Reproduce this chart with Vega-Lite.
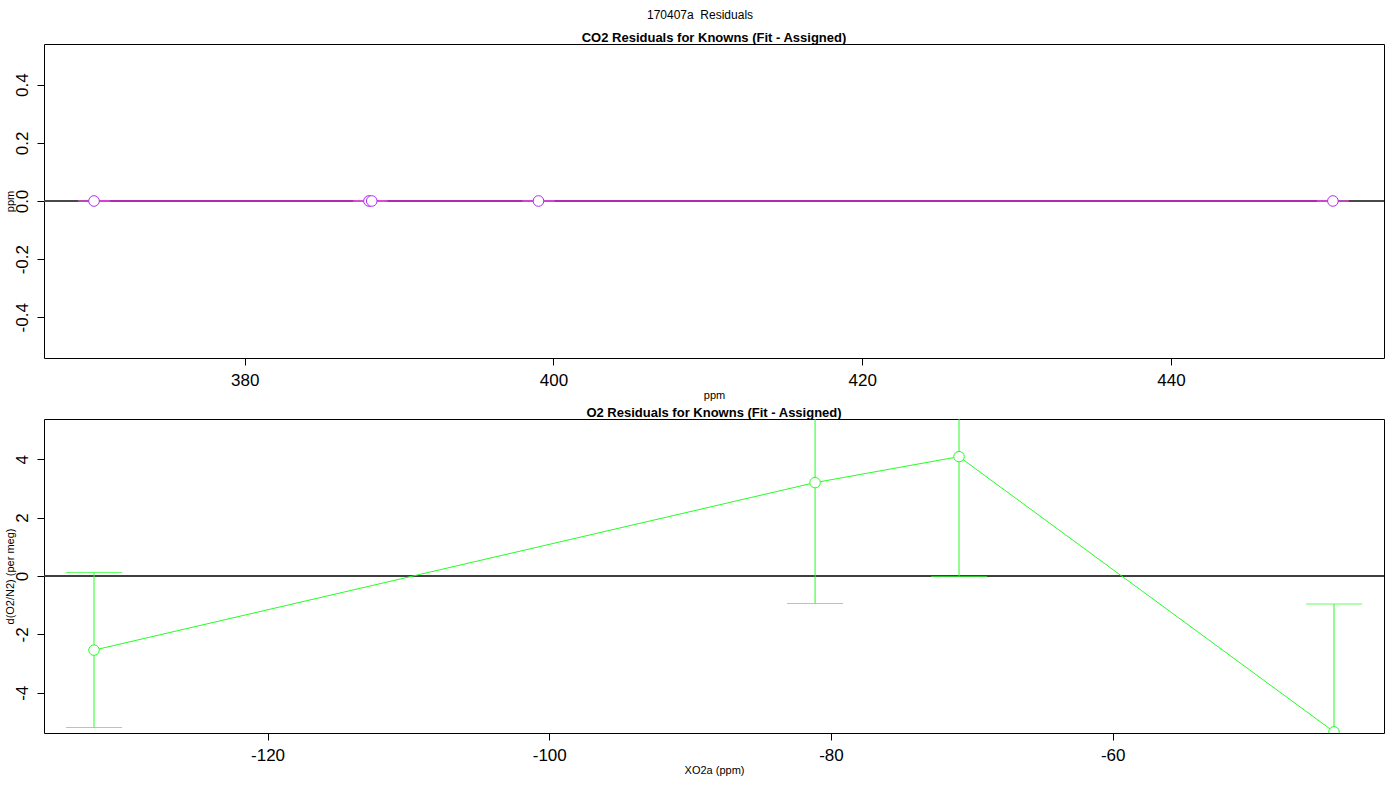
{
  "$schema": "https://vega.github.io/schema/vega-lite/v6.json",
  "autosize": {"type": "pad"},
  "padding": {"left": 3, "top": 8, "right": 16, "bottom": 25},
  "background": "white",
  "title": {"text": "170407a\u00a0 Residuals", "fontSize": 12, "fontWeight": "normal", "font": "Liberation Sans", "anchor": "middle", "frame": "group", "dx": -14, "baseline": "alphabetic", "offset": 1, "color": "black"},
  "datasets": {
    "co2": [
      {"x": 370.24, "y": 0, "lo": -0.0005, "hi": 0.0005},
      {"x": 388.05, "y": 0, "lo": -0.0005, "hi": 0.0005},
      {"x": 388.23, "y": 0, "lo": -0.0005, "hi": 0.0005},
      {"x": 399.03, "y": 0, "lo": -0.0005, "hi": 0.0005},
      {"x": 450.49, "y": 0, "lo": -0.0005, "hi": 0.0005}
    ],
    "o2": [
      {"x": -132.32, "y": -2.54, "lo": -5.19, "hi": 0.12},
      {"x": -81.13, "y": 3.2, "lo": -0.94, "hi": 7.34},
      {"x": -70.91, "y": 4.09, "lo": -0.02, "hi": 8.2},
      {"x": -44.29, "y": -5.34, "lo": -9.72, "hi": -0.96}
    ]
  },
  "config": {
    "font": "Liberation Sans",
    "view": {"stroke": "black", "strokeWidth": 1},
    "axis": {"grid": false, "domain": false, "ticks": true, "tickColor": "black", "tickSize": 7, "labelFontSize": 17, "labelColor": "black", "labelFont": "Liberation Sans", "titleFont": "Liberation Sans", "titleFontSize": 11, "titleFontWeight": "normal", "titleColor": "black", "labelOverlap": false, "labelFlush": false, "labelBound": false},
    "axisX": {"labelPadding": 7, "labelBaseline": "top", "labelAlign": "center", "labelAngle": 0, "titleY": 40, "titleBaseline": "alphabetic"},
    "axisY": {"labelAngle": 270, "labelAlign": "center", "labelBaseline": "alphabetic", "labelPadding": 10, "titleAngle": 270, "titleX": -31, "titleY": 157, "titleBaseline": "alphabetic", "titleAlign": "center"}
  },
  "spacing": 61,
  "bounds": "flush",
  "vconcat": [
    {
      "width": 1340,
      "height": 314,
      "title": {"text": "CO2 Residuals for Knowns (Fit - Assigned)", "fontSize": 13, "fontWeight": "bold", "font": "Liberation Sans", "anchor": "middle", "frame": "group", "baseline": "alphabetic", "offset": -11, "color": "black"},
      "data": {"name": "co2"},
      "encoding": {
        "x": {"field": "x", "type": "quantitative", "title": "ppm", "scale": {"domain": [367.0, 453.8], "nice": false, "zero": false}, "axis": {"values": [380, 400, 420, 440], "labelExpr": "replace(format(datum.value, 'd'), '\u2212', '-')"}},
        "y": {"field": "y", "type": "quantitative", "title": "ppm", "scale": {"domain": [-0.54, 0.54], "nice": false, "zero": false}, "axis": {"values": [-0.4, -0.2, 0, 0.2, 0.4], "labelExpr": "replace(format(datum.value, '.1f'), '\u2212', '-')"}}
      },
      "layer": [
        {"mark": {"type": "rule", "color": "#444444", "strokeWidth": 1}, "encoding": {"y": {"datum": 0}, "x": {"datum": 367.0}, "x2": {"datum": 453.8}}},
        {"mark": {"type": "rule", "color": "#d020d0", "strokeWidth": 1, "clip": true}, "encoding": {"y": {"field": "lo", "type": "quantitative", "title": "ppm"}, "y2": {"field": "hi"}}},
        {"mark": {"type": "line", "color": "#d020d0", "strokeWidth": 1.3, "clip": true}, "encoding": {"order": {"field": "x"}}},
        {"mark": {"type": "tick", "orient": "horizontal", "size": 32, "thickness": 1.3, "color": "#e050e0", "clip": true}, "encoding": {"y": {"field": "lo", "type": "quantitative", "title": "ppm"}}},
        {"mark": {"type": "tick", "orient": "horizontal", "size": 32, "thickness": 1.3, "color": "#e050e0", "clip": true}, "encoding": {"y": {"field": "hi", "type": "quantitative", "title": "ppm"}}},
        {"mark": {"type": "point", "shape": "circle", "size": 113, "filled": false, "fill": "white", "fillOpacity": 1, "stroke": "#b030f0", "strokeWidth": 1, "opacity": 1, "clip": true}}
      ]
    },
    {
      "width": 1340,
      "height": 314,
      "title": {"text": "O2 Residuals for Knowns (Fit - Assigned)", "fontSize": 13, "fontWeight": "bold", "font": "Liberation Sans", "anchor": "middle", "frame": "group", "baseline": "alphabetic", "offset": -11, "color": "black"},
      "data": {"name": "o2"},
      "encoding": {
        "x": {"field": "x", "type": "quantitative", "title": "XO2a (ppm)", "scale": {"domain": [-135.87, -40.74], "nice": false, "zero": false}, "axis": {"values": [-120, -100, -80, -60], "labelExpr": "replace(format(datum.value, 'd'), '\u2212', '-')"}},
        "y": {"field": "y", "type": "quantitative", "title": "d(O2/N2) (per meg)", "scale": {"domain": [-5.38, 5.38], "nice": false, "zero": false}, "axis": {"values": [-4, -2, 0, 2, 4], "labelExpr": "replace(format(datum.value, 'd'), '\u2212', '-')"}}
      },
      "layer": [
        {"mark": {"type": "rule", "color": "#333333", "strokeWidth": 1}, "encoding": {"y": {"datum": 0}, "x": {"datum": -135.87}, "x2": {"datum": -40.74}}},
        {"mark": {"type": "rule", "color": "#22ff22", "strokeWidth": 1, "clip": true}, "encoding": {"y": {"field": "lo", "type": "quantitative", "title": "d(O2/N2) (per meg)"}, "y2": {"field": "hi"}}},
        {"mark": {"type": "line", "color": "#22ff22", "strokeWidth": 1, "clip": true}, "encoding": {"order": {"field": "x"}}},
        {"mark": {"type": "tick", "orient": "horizontal", "size": 56, "thickness": 1, "color": "#22ff22", "clip": true}, "encoding": {"y": {"field": "lo", "type": "quantitative", "title": "d(O2/N2) (per meg)"}}},
        {"mark": {"type": "tick", "orient": "horizontal", "size": 56, "thickness": 1, "color": "#22ff22", "clip": true}, "encoding": {"y": {"field": "hi", "type": "quantitative", "title": "d(O2/N2) (per meg)"}}},
        {"mark": {"type": "point", "shape": "circle", "size": 110, "filled": false, "fill": "white", "fillOpacity": 1, "stroke": "#22ff22", "strokeWidth": 1, "opacity": 1, "clip": true}}
      ]
    }
  ]
}
